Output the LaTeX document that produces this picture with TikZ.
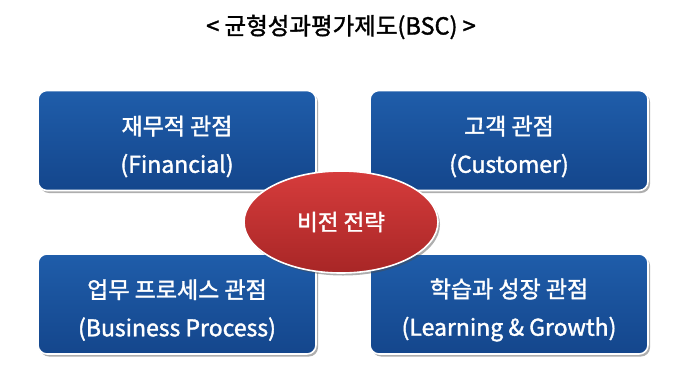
\documentclass[tikz,border=0pt]{standalone}
\usepackage{fontspec}
\setmainfont{Noto Sans CJK KR}
\newfontfamily\semib{Noto Sans CJK KR}[FakeBold=1.6]
\usetikzlibrary{shadows,shapes.geometric}
\definecolor{boxtop}{HTML}{1F5DAA}
\definecolor{boxbot}{HTML}{14468C}
\definecolor{elltop}{HTML}{D63C3C}
\definecolor{ellbot}{HTML}{A82626}
\begin{document}
\begin{tikzpicture}[x=1pt,y=-1pt,
  persp/.style={rounded corners=9pt, top color=boxtop, bottom color=boxbot,
    draw=white, line width=1.6pt, minimum width=278pt, minimum height=100pt,
    drop shadow={shadow xshift=2pt, shadow yshift=-2.5pt, opacity=0.45, fill=black!70}},
  persptext/.style={text=white, font=\semib\fontsize{23}{38}\selectfont, align=center},
  vision/.style={ellipse, top color=elltop, bottom color=ellbot,
    draw=white, line width=1.6pt, minimum width=194pt, minimum height=102pt,
    text=white, font=\semib\fontsize{22.5}{26}\selectfont,
    drop shadow={shadow xshift=2pt, shadow yshift=-2.5pt, opacity=0.45, fill=black!70}}]
\useasboundingbox (0,0) rectangle (682,365);
\node[font=\semib\fontsize{23.5}{26}\selectfont] (title) at (341,27) {< 균형성과평가제도(BSC) >};
\node[persp] (fin) at (177,140.5) {};
\node[persp] (cus) at (509,140.5) {};
\node[persp] (bus) at (177,304) {};
\node[persp] (lea) at (509,304) {};
\node[persptext] (fint) at ([yshift=-6pt]fin.center) {재무적 관점\\(Financial)};
\node[persptext] (cust) at ([yshift=-6pt]cus.center) {고객 관점\\(Customer)};
\node[persptext] (bust) at ([yshift=-6pt]bus.center) {업무 프로세스 관점\\(Business Process)};
\node[persptext] (leat) at ([yshift=-6pt]lea.center) {학습과 성장 관점\\(Learning \& Growth)};
\node[vision] (vis) at (341,222) {비전 전략};
\end{tikzpicture}
\end{document}
